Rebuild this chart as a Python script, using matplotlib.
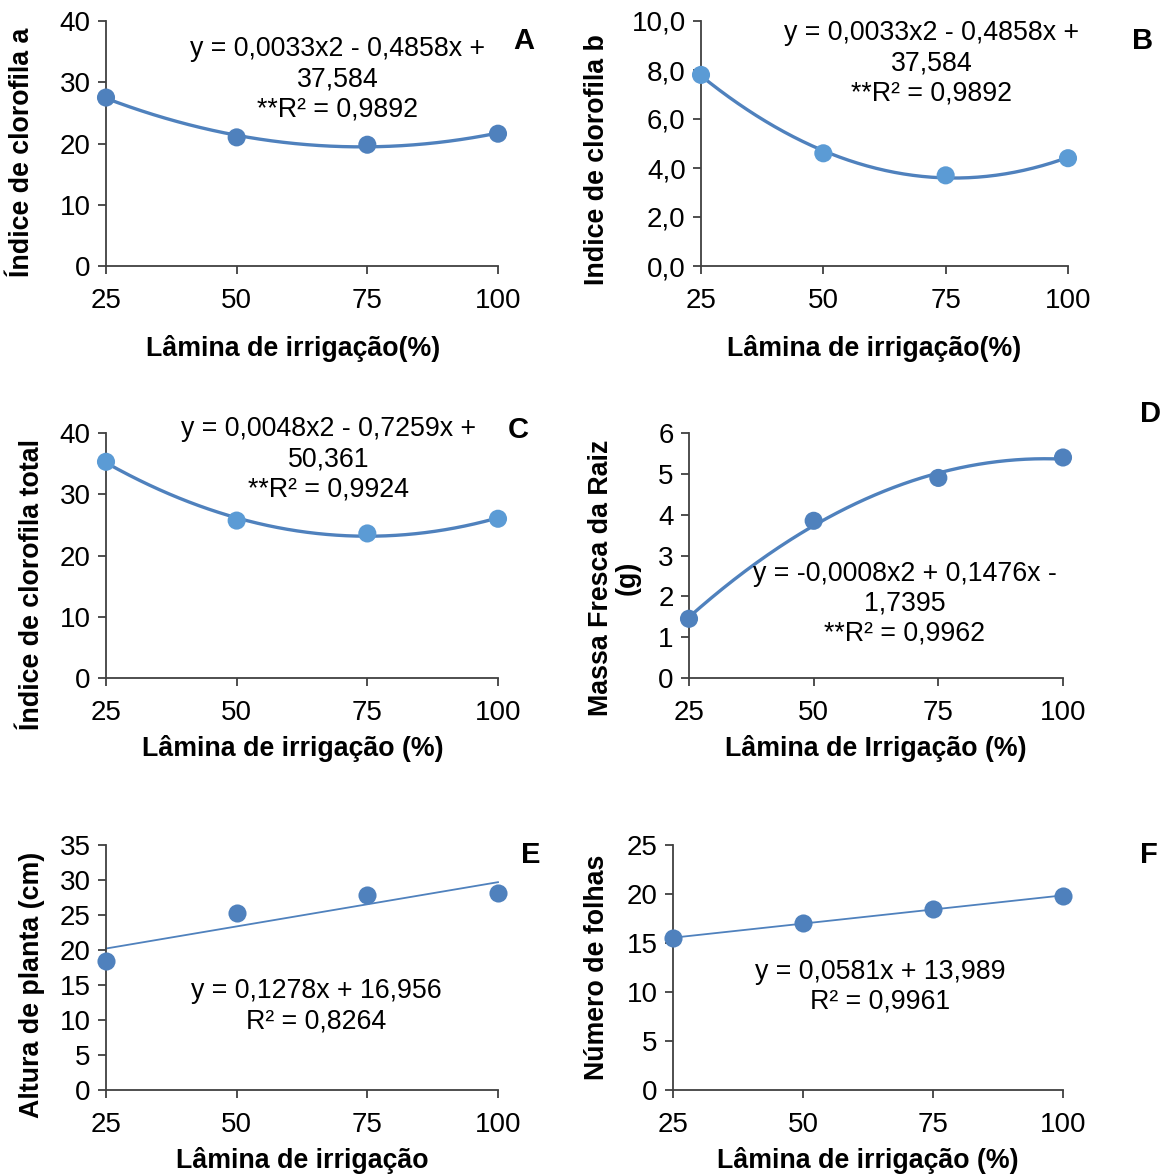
import numpy as np
import matplotlib
matplotlib.use("Agg")
import matplotlib.pyplot as plt

plt.rcParams['font.family'] = ['Liberation Sans', 'DejaVu Sans']

x_levels = [25, 50, 75, 100]
x_ticklabels = ["25", "50", "75", "100"]

clor_a = [27.5, 21.0, 19.8, 21.6]
clor_b = [7.8, 4.6, 3.7, 4.4]
clor_total = [35.3, 25.7, 23.6, 26.0]
massa_raiz = [1.45, 3.85, 4.9, 5.4]
altura = [18.5, 25.3, 27.8, 28.2]
folhas = [15.5, 17.0, 18.5, 19.8]

W, H = 1170, 1175
fig = plt.figure(figsize=(W / 100, H / 100), dpi=100)

DARK = '#4F81BD'
LIGHT = '#5B9BD5'
SPINE = '#404040'
FS = 19.3
TFS = 20
LS = 1.2


def px_axes(x0, x1, ytop, ybot):
    return fig.add_axes([x0 / W, 1 - ybot / H, (x1 - x0) / W, (ybot - ytop) / H])


def style(ax, ymax, yticks, yfmt):
    ax.set_xlim(25, 100)
    ax.set_ylim(0, ymax)
    ax.set_xticks(x_levels)
    ax.set_xticklabels(x_ticklabels)
    ax.set_yticks(yticks)
    ax.set_yticklabels([yfmt(v) for v in yticks])
    for s in ['top', 'right']:
        ax.spines[s].set_visible(False)
    for s in ['left', 'bottom']:
        ax.spines[s].set_color(SPINE)
        ax.spines[s].set_linewidth(1.3)
    ax.tick_params(axis='both', direction='out', length=6, width=1.3, color=SPINE,
                   labelsize=TFS, labelcolor='black')
    ax.tick_params(axis='x', pad=10)
    ax.tick_params(axis='y', pad=5)
    ax.patch.set_alpha(0)


def fig_text(x, y, s, **kw):
    fig.text(x / W, 1 - y / H, s, **kw)


def quad_panel(ax, y, mcolors, lcolor):
    coef = np.polyfit(x_levels, y, 2)
    xs = np.linspace(25, 100, 200)
    ax.plot(xs, np.polyval(coef, xs), color=lcolor, lw=2.4, zorder=2, clip_on=False)
    ax.scatter(x_levels, y, s=170, c=mcolors, zorder=3, clip_on=False, linewidths=0)


def lin_panel(ax, y, color):
    coef = np.polyfit(x_levels, y, 1)
    xs = np.array([25, 100])
    ax.plot(xs, np.polyval(coef, xs), color=color, lw=1.3, zorder=2, clip_on=False)
    ax.scatter(x_levels, y, s=170, c=color, zorder=3, clip_on=False, linewidths=0)


int_fmt = lambda v: f"{v:g}"
dec_fmt = lambda v: f"{v:.1f}".replace('.', ',')

# Panel A
axA = px_axes(106, 498, 21, 266)
style(axA, 40, [0, 10, 20, 30, 40], int_fmt)
quad_panel(axA, clor_a, [DARK, DARK, DARK, DARK], DARK)
fig_text(338, 79, "y = 0,0033x2 - 0,4858x +\n37,584\n**R² = 0,9892", fontsize=FS,
         ha='center', va='center', linespacing=LS)
fig_text(524, 41, "A", fontsize=21, fontweight='bold', ha='center', va='center')
fig_text(22, 152, "Índice de clorofila a", fontsize=FS, fontweight='bold', rotation=90,
         ha='center', va='center')
fig_text(293, 348, "Lâmina de irrigação(%)", fontsize=FS, fontweight='bold', ha='center', va='center')

# Panel B
axB = px_axes(701, 1068, 21, 266)
style(axB, 10, [0, 2, 4, 6, 8, 10], dec_fmt)
quad_panel(axB, clor_b, [LIGHT] * 4, DARK)
fig_text(932, 63, "y = 0,0033x2 - 0,4858x +\n37,584\n**R² = 0,9892", fontsize=FS,
         ha='center', va='center', linespacing=LS)
fig_text(1143, 41, "B", fontsize=21, fontweight='bold', ha='center', va='center')
fig_text(597, 160, "Indice de clorofila b", fontsize=FS, fontweight='bold', rotation=90,
         ha='center', va='center')
fig_text(874, 348, "Lâmina de irrigação(%)", fontsize=FS, fontweight='bold', ha='center', va='center')

# Panel C
axC = px_axes(106, 498, 433, 678)
style(axC, 40, [0, 10, 20, 30, 40], int_fmt)
quad_panel(axC, clor_total, [LIGHT] * 4, DARK)
fig_text(329, 459, "y = 0,0048x2 - 0,7259x +\n50,361\n**R² = 0,9924", fontsize=FS,
         ha='center', va='center', linespacing=LS)
fig_text(518, 430, "C", fontsize=21, fontweight='bold', ha='center', va='center')
fig_text(32, 585, "Índice de clorofila total", fontsize=FS, fontweight='bold', rotation=90,
         ha='center', va='center')
fig_text(293, 748, "Lâmina de irrigação (%)", fontsize=FS, fontweight='bold', ha='center', va='center')

# Panel D
axD = px_axes(689, 1063, 433, 678)
style(axD, 6, [0, 1, 2, 3, 4, 5, 6], int_fmt)
quad_panel(axD, massa_raiz, [DARK] * 4, DARK)
fig_text(905, 604, "y = -0,0008x2 + 0,1476x -\n1,7395\n**R² = 0,9962", fontsize=FS,
         ha='center', va='center', linespacing=LS)
fig_text(1150, 414, "D", fontsize=21, fontweight='bold', ha='center', va='center')
fig_text(614, 578, "Massa Fresca da Raiz\n(g)", fontsize=FS, fontweight='bold', rotation=90,
         ha='center', va='center', linespacing=1.05)
fig_text(876, 748, "Lâmina de Irrigação (%)", fontsize=FS, fontweight='bold', ha='center', va='center')

# Panel E
axE = px_axes(106, 498, 845, 1090)
style(axE, 35, [0, 5, 10, 15, 20, 25, 30, 35], int_fmt)
lin_panel(axE, altura, DARK)
fig_text(316, 1006, "y = 0,1278x + 16,956\nR² = 0,8264", fontsize=FS,
         ha='center', va='center', linespacing=LS)
fig_text(531, 855, "E", fontsize=21, fontweight='bold', ha='center', va='center')
fig_text(32, 985, "Altura de planta (cm)", fontsize=FS, fontweight='bold', rotation=90,
         ha='center', va='center')
fig_text(302, 1160, "Lâmina de irrigação", fontsize=FS, fontweight='bold', ha='center', va='center')

# Panel F
axF = px_axes(673, 1063, 845, 1090)
style(axF, 25, [0, 5, 10, 15, 20, 25], int_fmt)
lin_panel(axF, folhas, DARK)
fig_text(880, 987, "y = 0,0581x + 13,989\nR² = 0,9961", fontsize=FS,
         ha='center', va='center', linespacing=LS)
fig_text(1149, 855, "F", fontsize=21, fontweight='bold', ha='center', va='center')
fig_text(597, 967, "Número de folhas", fontsize=FS, fontweight='bold', rotation=90,
         ha='center', va='center')
fig_text(868, 1160, "Lâmina de irrigação (%)", fontsize=FS, fontweight='bold', ha='center', va='center')

fig.savefig("out.png", dpi=100, facecolor='white')
